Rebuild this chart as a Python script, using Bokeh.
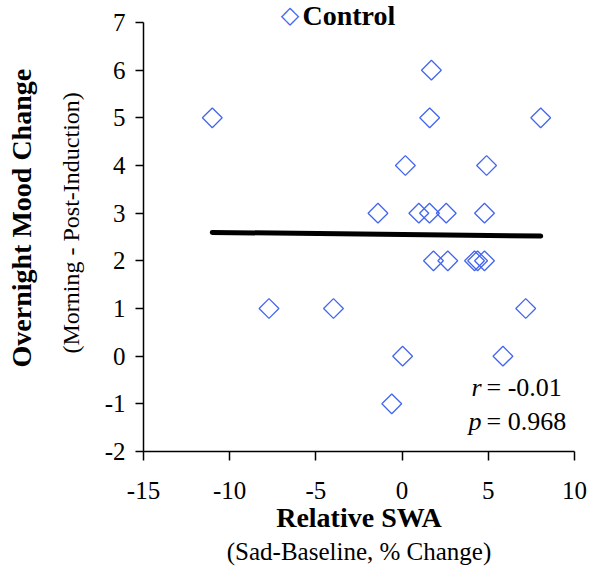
import numpy as np
from bokeh.plotting import figure
from bokeh.models import Range1d, Title, Label, FixedTicker
from bokeh.embed import file_html
from bokeh.resources import INLINE

# ---- data ----
swa = [1.70, -11.01, 1.60, 8.04, 0.19, 4.90, -1.40, 0.97, 1.59, 2.56, 4.78,
       1.82, 2.65, 4.20, 4.38, 4.78, -7.72, -3.98, 7.17, 0.03, 5.85, -0.60]
mood = [6, 5, 5, 5, 4, 4, 3, 3, 3, 3, 3,
        2, 2, 2, 2, 2, 1, 1, 1, 0, 0, -1]
x_ticks = [-15, -10, -5, 0, 5, 10]
y_ticks = [-2, -1, 0, 1, 2, 3, 4, 5, 6, 7]
series_name = "Control"
r_value = "-0.01"
p_value = "0.968"

# trend line (least squares from the data)
slope, intercept = np.polyfit(swa, mood, 1)
trend_x = [min(swa), max(swa)]
trend_y = [slope * v + intercept for v in trend_x]

FONT = "Liberation Serif"
BLUE = "#4466EE"

# frame extends 22px above the "7" tick so the legend line can sit there unclipped
y_lo, y_hi = y_ticks[0], y_ticks[-1]
y_top = y_hi + 22 * (y_hi - y_lo) / 429

p = figure(width=594, height=571, x_range=Range1d(x_ticks[0], x_ticks[-1]),
           y_range=Range1d(y_lo, y_top),
           output_backend="svg", toolbar_location=None,
           min_border_left=143, min_border_right=20, min_border_top=0, min_border_bottom=120)
p.xgrid.visible = False
p.ygrid.visible = False
p.outline_line_color = None
p.background_fill_color = "white"

for ax in (p.xaxis[0], p.yaxis[0]):
    ax.axis_line_color = "black"
    ax.axis_line_width = 1.5
    ax.major_tick_line_color = "black"
    ax.major_tick_line_width = 1.5
    ax.major_tick_in = 0
    ax.minor_tick_line_color = None
    ax.major_label_text_font = FONT
    ax.major_label_text_font_size = "25px"
    ax.major_label_text_color = "black"

p.yaxis.bounds = (y_lo, y_hi)
p.xaxis.ticker = FixedTicker(ticks=x_ticks)
p.yaxis.ticker = FixedTicker(ticks=y_ticks)
p.xaxis.major_label_overrides = {v: str(v) for v in x_ticks}
p.yaxis.major_label_overrides = {v: str(v) for v in y_ticks}
p.xaxis.major_tick_out = 9
p.yaxis.major_tick_out = 8
p.xaxis.major_label_standoff = 21
p.yaxis.major_label_standoff = 10

p.xaxis.axis_label = "Relative SWA"
p.xaxis.axis_label_text_font = FONT
p.xaxis.axis_label_text_font_style = "bold"
p.xaxis.axis_label_text_font_size = "28px"
p.xaxis.axis_label_text_color = "black"
p.xaxis.axis_label_standoff = 0

p.add_layout(Title(text="(Sad-Baseline, % Change)", align="center", text_font=FONT,
                   text_font_size="25px", text_font_style="normal", text_color="black",
                   standoff=0), "below")

p.add_layout(Title(text="(Morning - Post-Induction)", align="left", text_font=FONT,
                   text_font_size="24px", text_font_style="normal", text_color="black",
                   standoff=36, offset=98), "left")
p.add_layout(Title(text="Overnight Mood Change", align="left", text_font=FONT,
                   text_font_size="28px", text_font_style="bold", text_color="black",
                   standoff=1, offset=84), "left")

# trend line
p.line(trend_x, trend_y, line_color="black", line_width=5, line_cap="round")

# points
p.scatter(swa, mood, marker="square", size=14, angle=np.pi / 4,
          line_color=BLUE, line_width=1.3, fill_color=None)

# legend (diamond symbol + series name), positioned in screen px within the frame
p.add_layout(Label(x=146.5, y=437, x_units="screen", y_units="screen", text="\u25C7",
                   text_font="DejaVu Sans", text_font_size="24px", text_color=BLUE,
                   text_align="center", text_baseline="middle"))
p.add_layout(Label(x=159, y=436, x_units="screen", y_units="screen", text=series_name,
                   text_font=FONT, text_font_size="28px", text_font_style="bold",
                   text_color="black", text_align="left", text_baseline="alphabetic"))

# statistics text (positioned relative to the frame, in screen px)
for sym, val, ypos in (("r", r_value, 64), ("p", p_value, 30)):
    p.add_layout(Label(x=338, y=ypos, x_units="screen", y_units="screen", text=sym,
                       text_font=FONT, text_font_size="26px", text_font_style="italic",
                       text_align="right", text_baseline="alphabetic", text_color="black"))
    p.add_layout(Label(x=343, y=ypos, x_units="screen", y_units="screen", text="= " + val,
                       text_font=FONT, text_font_size="26px", text_font_style="normal",
                       text_align="left", text_baseline="alphabetic", text_color="black"))

open("out.html", "w").write(file_html(p, INLINE))
